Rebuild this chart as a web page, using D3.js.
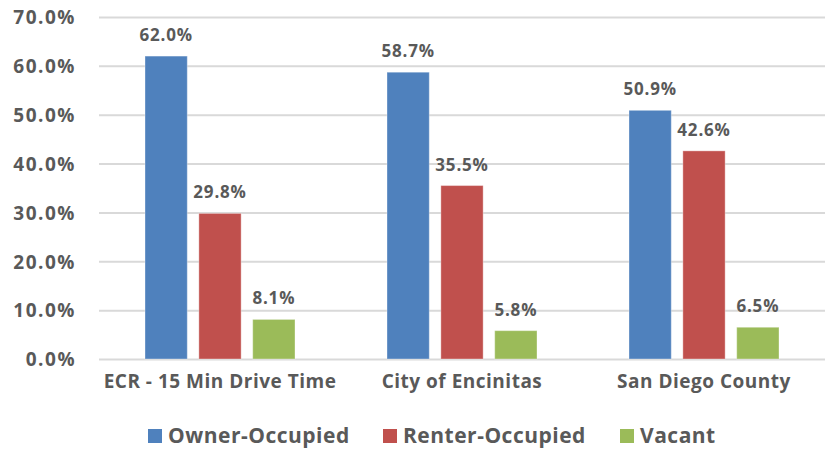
<!DOCTYPE html>
<html>
<head>
<meta charset="utf-8">
<script src="https://cdn.jsdelivr.net/npm/d3@7"></script>
<style>
  body { margin: 0; background: #fff; }
  svg text { font-family: "Open Sans", Lato, sans-serif; font-weight: bold; fill: #595959; }
</style>
</head>
<body>
<svg id="chart" width="832" height="450"></svg>
<script>
// chart data
var categories = ["ECR - 15 Min Drive Time", "City of Encinitas", "San Diego County"];
var seriesNames = ["Owner-Occupied", "Renter-Occupied", "Vacant"];
var ownerOccupied = [62.0, 58.7, 50.9];
var renterOccupied = [29.8, 35.5, 42.6];
var vacant = [8.1, 5.8, 6.5];
var yTicks = [0, 10, 20, 30, 40, 50, 60, 70];
var colors = ["#4F81BD", "#C0504D", "#9BBB59"];

var svg = d3.select("#chart");
var margin = { left: 99, right: 7, top: 17, bottom: 91 };
var width = 832 - margin.left - margin.right,
    height = 450 - margin.top - margin.bottom;
var g = svg.append("g").attr("transform", "translate(" + margin.left + "," + margin.top + ")");

var x0 = d3.scaleBand().domain(categories).range([0, width]).padding(0);
var x1 = d3.scaleBand().domain(seriesNames).range([46, x0.bandwidth() - 46]).paddingInner(0.215);
var y = d3.scaleLinear().domain([0, 70]).range([height, 0]);

// gridlines
g.selectAll(".grid")
    .data(yTicks)
    .enter()
    .append("line")
    .attr("x1", 0)
    .attr("x2", width)
    .attr("y1", function (d) { return y(d) + 0.5; })
    .attr("y2", function (d) { return y(d) + 0.5; })
    .attr("stroke", "#D9D9D9")
    .attr("stroke-width", 2);

// y axis labels
var yAxis = g.append("g")
    .call(d3.axisLeft(y).tickValues(yTicks).tickSize(0).tickPadding(23)
        .tickFormat(function (d) { return d.toFixed(1) + "%"; }));
yAxis.select(".domain").remove();
yAxis.selectAll("text")
    .attr("font-size", 19)
    .attr("letter-spacing", 1.5)
    .attr("font-family", null)
    .attr("dy", "0.36em");

var allSeries = [ownerOccupied, renterOccupied, vacant];
var rows = [];
categories.forEach(function (c, i) {
    seriesNames.forEach(function (s, j) {
        rows.push({ cat: c, series: s, value: allSeries[j][i], color: colors[j] });
    });
});

var bars = g.selectAll(".bar")
    .data(rows)
    .enter()
    .append("g")
    .attr("class", "bar")
    .attr("transform", function (d) { return "translate(" + (x0(d.cat) + x1(d.series)) + ",0)"; });

bars.append("rect")
    .attr("x", 0)
    .attr("y", function (d) { return y(d.value); })
    .attr("width", x1.bandwidth())
    .attr("height", function (d) { return y(0) - y(d.value); })
    .attr("fill", function (d) { return d.color; })
    .attr("stroke", "#ffffff")
    .attr("stroke-opacity", 0.35)
    .attr("stroke-width", 1);

bars.append("text")
    .attr("x", x1.bandwidth() / 2)
    .attr("y", function (d) { return y(d.value) - 15; })
    .attr("text-anchor", "middle")
    .attr("font-size", 17)
    .attr("letter-spacing", 0.8)
    .text(function (d) { return d.value.toFixed(1) + "%"; });

// x axis labels
var xAxis = g.append("g")
    .attr("transform", "translate(0," + height + ")")
    .call(d3.axisBottom(x0).tickSize(0).tickPadding(16));
xAxis.select(".domain").remove();
xAxis.selectAll("text")
    .attr("font-size", 19)
    .attr("letter-spacing", 0.5)
    .attr("font-family", null);

// legend
var legendX = [148, 383, 620];
var legend = svg.append("g").selectAll(".legend")
    .data(seriesNames)
    .enter()
    .append("g")
    .attr("transform", function (d, i) { return "translate(" + legendX[i] + ",429)"; });
legend.append("rect")
    .attr("width", 14)
    .attr("height", 14)
    .attr("fill", function (d, i) { return colors[i]; });
legend.append("text")
    .attr("x", 20)
    .attr("y", 14)
    .attr("font-size", 21)
    .attr("letter-spacing", 0.5)
    .text(function (d) { return d; });
</script>
</body>
</html>
